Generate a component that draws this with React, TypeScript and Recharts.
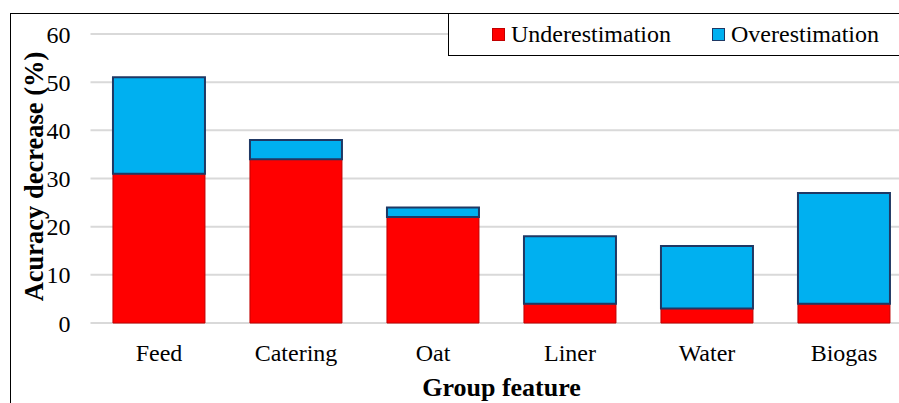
import React from "react";
import { BarChart, Bar, XAxis, YAxis, CartesianGrid, Label } from "recharts";

// values
const categories = ["Feed", "Catering", "Oat", "Liner", "Water", "Biogas"];
const underestimation = [31, 34, 22, 4, 3, 4];
const overestimation = [20, 4, 2, 14, 13, 23];
const yTicks = [0, 10, 20, 30, 40, 50, 60];

const RED = "#FF0000";
const BLUE = "#00B0F0";
const FONT = '"Liberation Serif", "Times New Roman", serif';

const data = categories.map((name, i) => ({
  name,
  under: underestimation[i],
  over: overestimation[i],
}));

function YTitle(props: any) {
  const vb = props.viewBox || { x: 0, y: 0, width: 0, height: 0 };
  const cx = vb.x + 34;
  const cy = vb.y + vb.height / 2 - 2;
  return (
    <text x={cx} y={cy} transform={`rotate(-90 ${cx} ${cy})`} textAnchor="middle"
      dominantBaseline="central" fontFamily={FONT} fontWeight="bold" fontSize={26.5} fill="#000">
      Acuracy decrease (%)
    </text>
  );
}

const legendItems = [
  { label: "Underestimation", color: RED, border: "#C00000", left: 43 },
  { label: "Overestimation", color: BLUE, border: "#1F3864", left: 263 },
];

export default function App() {
  return (
    <div style={{ position: "fixed", left: 0, top: 0, width: 899, height: 403, overflow: "hidden", background: "#fff", fontFamily: FONT }}>
      {/* outer chart frame */}
      <div style={{ position: "absolute", left: 10, top: 13, width: 1000, height: 500, border: "1.5px solid #000", boxSizing: "border-box" }} />
      <div style={{ position: "absolute", left: 0, top: 0 }}>
        <BarChart width={930} height={403} data={data} margin={{ top: 34, right: 17.5, bottom: 0, left: 0 }}
          barCategoryGap="16.4%">
          <CartesianGrid vertical={false} stroke="#D9D9D9" strokeWidth={2} />
          <XAxis dataKey="name" height={80} axisLine={false} tickLine={false} tickSize={0} tickMargin={21}
            tick={{ fontSize: 24, fill: "#000", fontFamily: FONT }}>
            <Label value="Group feature" position="insideBottom" offset={7}
              style={{ fontSize: 26, fontWeight: "bold", fill: "#000", fontFamily: FONT }} />
          </XAxis>
          <YAxis width={90.5} domain={[0, 60]} ticks={yTicks} axisLine={false} tickLine={false} tickSize={0}
            tickMargin={20} tick={{ fontSize: 24, fill: "#000", fontFamily: FONT }}>
            <Label content={<YTitle />} />
          </YAxis>
          <Bar dataKey="under" name="Underestimation" stackId="a" fill={RED} stroke="#C00000" strokeWidth={1}
            isAnimationActive={false} />
          <Bar dataKey="over" name="Overestimation" stackId="a" fill={BLUE} stroke="#1F3864" strokeWidth={2}
            isAnimationActive={false} />
        </BarChart>
      </div>
      {/* legend box */}
      <div style={{ position: "absolute", left: 448, top: 13, width: 500, height: 43, border: "1.5px solid #000", boxSizing: "border-box", background: "#fff" }}>
        {legendItems.map((it) => (
          <div key={it.label} style={{ position: "absolute", left: it.left, top: 0, height: 40, display: "flex", alignItems: "center" }}>
            <span style={{ display: "inline-block", width: 11, height: 11, background: it.color, border: `1px solid ${it.border}`, marginRight: 6 }} />
            <span style={{ fontSize: 24, color: "#000", fontFamily: FONT, lineHeight: "40px" }}>{it.label}</span>
          </div>
        ))}
      </div>
    </div>
  );
}
